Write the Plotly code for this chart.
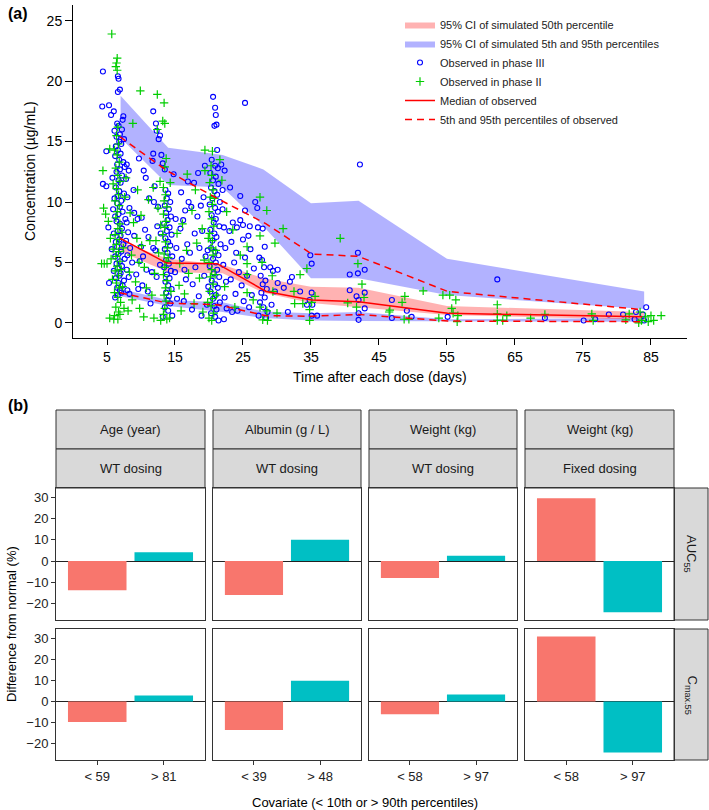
import plotly.graph_objects as go

W, H = 709, 810
FONT = "Liberation Sans, Arial, Helvetica, sans-serif"

# ---------------- Panel (a) data ----------------
sim_t = [7, 14, 22, 28, 35, 42, 55, 84]
ci95_upper_hi = [18.8, 14.5, 13.9, 12.7, 9.9, 10.1, 5.3, 2.6]
ci95_upper_lo = [15.3, 11.4, 11.2, 8.0, 3.7, 3.7, 2.3, 1.15]
ci50_hi = [6.7, 5.3, 4.8, 3.7, 3.0, 2.9, 1.4, 0.9]
ci50_lo = [5.9, 4.2, 4.1, 2.5, 1.65, 1.3, 0.65, 0.25]
ci5_hi = [2.8, 1.9, 1.7, 0.95, 0.8, 0.9, 0.3, 0.4]
ci5_lo = [2.2, 1.4, 0.9, 0.4, 0.2, 0.15, 0.1, 0.1]

obs_t = [6.9, 13.8, 21.2, 28.4, 35.1, 42.0, 55.1, 83.7]
obs_median = [7.0, 4.95, 4.9, 2.6, 1.9, 1.75, 0.8, 0.5]
obs_p95 = [15.4, 12.6, 10.3, 8.2, 5.7, 5.5, 2.6, 1.1]
obs_p5 = [2.5, 1.65, 1.5, 0.6, 0.55, 0.7, 0.15, 0.1]

phase3_obs = [
    (4.4, 20.8), (4.3, 17.9), (6.6, 20.4), (6.7, 20.2), (6.9, 19.3), (6.6, 19.1), (5.3, 18.0), (6.0, 17.5),
    (5.6, 17.2), (7.4, 17.1), (7.3, 16.8), (6.5, 16.5), (6.7, 16.3), (7.2, 16.0), (6.1, 15.9), (6.9, 15.6),
    (6.4, 15.4), (7.5, 15.2), (6.8, 15.0), (7.1, 14.8), (4.9, 14.2), (6.3, 14.6), (6.6, 14.3), (7.0, 14.0),
    (6.2, 13.8), (6.8, 13.5), (7.4, 13.3), (6.5, 13.1), (7.6, 12.9), (6.9, 12.7), (6.4, 12.5), (7.2, 12.2),
    (5.8, 12.0), (6.7, 11.8), (4.4, 11.5), (4.9, 11.3), (7.0, 11.6), (6.3, 11.2), (6.8, 10.9), (7.5, 10.7),
    (6.6, 10.5), (6.1, 10.3), (7.1, 10.1), (6.5, 9.9), (6.9, 9.6), (5.9, 9.4), (7.3, 9.2), (6.7, 9.0),
    (6.2, 8.8), (7.7, 8.6), (6.4, 8.4), (6.9, 8.2), (5.2, 7.9), (7.2, 7.8), (6.6, 7.6), (6.0, 7.4),
    (7.0, 7.2), (6.8, 6.9), (6.3, 6.7), (7.4, 6.5), (6.5, 6.3), (5.7, 6.1), (7.1, 5.9), (6.7, 5.7),
    (6.2, 5.5), (7.6, 5.3), (6.9, 5.1), (6.4, 4.9), (5.3, 3.3), (7.2, 4.7), (6.6, 4.5), (6.0, 4.3),
    (7.0, 4.1), (6.8, 3.9), (6.3, 3.7), (7.5, 3.5), (6.7, 3.3), (7.3, 3.1), (6.5, 2.9), (6.9, 2.7),
    (7.1, 2.5), (6.6, 2.3), (6.2, 2.1), (7.9, 13.1), (8.2, 12.6), (7.8, 11.9), (8.0, 10.4), (8.3, 9.5),
    (7.9, 8.3), (8.1, 7.5), (7.8, 6.8), (8.4, 6.2), (8.0, 5.6), (7.9, 4.4), (8.2, 3.8), (8.0, 2.7), (8.3, 2.4),
    (9.5, 8.6), (10.1, 8.7), (9.0, 7.2), (10.6, 7.7), (11.2, 10.3), (9.8, 5.1), (10.3, 5.5), (11.8, 6.2),
    (12.1, 6.0), (9.3, 4.0), (10.8, 4.4), (11.6, 4.2), (9.6, 2.8), (10.2, 3.1), (11.0, 2.6), (12.3, 3.8),
    (11.4, 1.6), (12.0, 11.3), (8.9, 11.0), (10.4, 12.6), (11.7, 13.4), (9.0, 9.1), (12.4, 8.0), (11.1, 7.1),
    (10.0, 6.3), (8.7, 5.0), (12.5, 9.6), (11.9, 10.0), (9.7, 13.6), (10.7, 12.0),
    (11.8, 17.5), (12.2, 16.5), (12.3, 15.9), (12.6, 15.2), (11.8, 14.0), (12.8, 15.5), (13.0, 13.9),
    (13.2, 13.2), (13.5, 12.7), (14.8, 12.3), (16.9, 11.7),
    (13.6, 11.0), (14.0, 10.7), (13.8, 10.3), (14.3, 10.0), (13.5, 9.7), (14.1, 9.4), (13.7, 9.1), (14.4, 8.8),
    (13.9, 8.5), (13.4, 8.2), (14.2, 7.9), (13.8, 7.6), (14.5, 7.3), (13.6, 7.0), (14.0, 6.7), (14.3, 6.4),
    (13.5, 6.1), (13.9, 5.8), (14.6, 5.5), (13.7, 5.2), (14.1, 4.9), (13.4, 4.6), (14.4, 4.3), (13.8, 4.0),
    (14.2, 3.7), (13.6, 3.4), (14.0, 3.1), (14.5, 2.8), (13.7, 2.5), (14.1, 2.2), (13.9, 1.9), (14.3, 1.6),
    (13.5, 1.3), (14.0, 1.0), (14.6, 0.6), (13.2, 0.5), (15.0, 4.2), (15.2, 6.2), (15.1, 8.6), (12.9, 7.4),
    (12.8, 4.8), (15.3, 2.0),
    (15.8, 7.8), (16.2, 8.5), (16.5, 9.3), (17.0, 10.0), (17.4, 9.6), (16.8, 6.5), (17.9, 7.4), (18.3, 8.8),
    (18.8, 9.7), (19.2, 10.4), (16.0, 5.3), (17.2, 5.8), (18.0, 4.6), (18.6, 6.2), (19.0, 7.6), (16.6, 3.6),
    (17.6, 3.2), (18.5, 2.2), (19.3, 3.9), (16.3, 1.8), (17.5, 1.1), (18.9, 0.6), (19.5, 5.5), (15.9, 10.8),
    (17.8, 11.6), (18.4, 12.4), (19.4, 13.0), (16.4, 4.4),
    (20.6, 18.7), (20.9, 17.8), (21.0, 17.2), (20.8, 16.3), (21.1, 16.4), (21.2, 14.3), (20.4, 13.5), (20.9, 13.0),
    (21.3, 12.8), (20.2, 12.4), (21.0, 12.1), (20.6, 11.8), (21.4, 11.5), (20.3, 11.2), (20.8, 10.9), (21.2, 10.6),
    (20.5, 10.3), (21.6, 10.0), (20.1, 9.8), (20.9, 9.5), (21.3, 9.2), (20.4, 8.9), (21.0, 8.6), (20.7, 8.3),
    (21.5, 8.0), (20.2, 7.7), (20.8, 7.4), (21.1, 7.1), (20.5, 6.8), (21.7, 6.5), (20.3, 6.2), (20.9, 5.9),
    (21.4, 5.6), (20.6, 5.3), (21.0, 5.0), (20.1, 4.7), (21.2, 4.4), (20.7, 4.1), (21.5, 3.8), (20.4, 3.5),
    (20.9, 3.2), (21.3, 2.9), (20.2, 2.6), (21.0, 2.3), (20.6, 2.0), (21.6, 1.7), (20.8, 1.4), (21.1, 1.1),
    (20.3, 0.8), (20.9, 0.5), (21.4, 0.2), (19.8, 6.0), (19.9, 3.0), (22.0, 9.4), (22.2, 7.9), (22.4, 6.2),
    (22.1, 4.8), (22.5, 3.4), (22.3, 2.1), (22.6, 1.2), (22.2, 0.3), (19.7, 1.5), (22.0, 11.0), (21.8, 13.1),
    (22.3, 12.6), (25.3, 18.2),
    (23.0, 7.6), (23.5, 8.3), (24.1, 7.9), (24.6, 8.5), (23.3, 6.7), (24.0, 5.8), (25.0, 6.9), (25.8, 7.2),
    (23.7, 5.0), (24.4, 4.2), (25.3, 5.4), (26.1, 6.1), (23.2, 3.6), (24.8, 3.1), (25.6, 3.9), (26.6, 4.5),
    (23.9, 2.4), (25.1, 1.8), (26.3, 2.3), (24.2, 1.0), (25.9, 1.3), (23.4, 0.9), (26.8, 10.0), (24.6, 10.5),
    (23.1, 11.2), (25.3, 9.3), (26.0, 8.0), (25.0, 8.1), (27.1, 9.5), (27.2, 7.9), (27.9, 7.8), (28.2, 6.3),
    (27.4, 5.4), (27.8, 5.2), (28.1, 4.6), (27.6, 3.9), (28.3, 3.5), (27.9, 3.2), (28.5, 2.8), (27.7, 2.5),
    (28.2, 2.1), (27.5, 1.7), (28.0, 1.3), (28.6, 0.9), (27.3, 0.6), (28.4, 0.4), (29.0, 4.6), (30.1, 4.4),
    (31.9, 3.4), (29.4, 4.3), (29.7, 2.6), (29.2, 1.5), (30.1, 3.3), (31.0, 2.9), (31.6, 0.9), (32.2, 3.8),
    (33.4, 2.6),
    (34.9, 5.6), (35.1, 4.9), (35.1, 2.5), (34.8, 1.9), (35.2, 1.5), (35.1, 0.6), (35.9, 0.6), (34.4, 1.5),
    (42.2, 13.1), (41.9, 5.8), (40.7, 4.0), (41.9, 4.1), (42.9, 4.4), (40.7, 2.7), (41.7, 2.2), (42.9, 2.5),
    (42.0, 1.9), (42.9, 1.2), (42.0, 0.8), (42.0, 0.25),
    (46.9, 1.9), (46.9, 0.4), (49.1, 1.0), (49.8, 0.5), (62.4, 3.6), (55.1, 0.5), (69.4, 0.4), (75.1, 0.2),
    (76.8, 0.3), (78.8, 0.7), (80.9, 0.7), (82.8, 0.9), (84.3, 1.3), (83.8, 0.7), (82.6, 0.3), (84.0, 0.2),
]

phase2_obs = [
    (5.7, 23.9), (6.5, 21.9), (6.4, 21.5), (6.3, 21.2), (6.5, 20.9), (6.6, 16.2), (4.4, 12.6), (5.4, 14.4),
    (6.1, 14.3), (6.4, 15.5), (6.7, 14.8), (6.5, 13.9), (6.8, 13.3), (6.3, 12.8), (6.6, 12.2), (6.9, 11.7),
    (6.4, 11.1), (6.7, 10.6), (6.2, 10.1), (6.8, 9.7), (4.5, 9.5), (4.8, 9.0), (5.2, 8.4), (6.5, 9.2),
    (6.3, 8.7), (6.9, 8.2), (6.6, 7.8), (6.2, 7.3), (6.8, 6.9), (6.4, 6.5), (5.9, 6.1), (6.7, 5.9),
    (6.3, 5.5), (4.2, 4.9), (4.6, 4.9), (5.0, 4.9), (6.9, 5.1), (6.5, 4.7), (6.2, 4.3), (6.7, 3.9),
    (5.8, 3.6), (6.4, 3.3), (6.8, 2.9), (6.1, 2.5), (6.6, 2.1), (7.0, 1.7), (6.3, 1.3), (6.7, 0.9),
    (6.1, 0.6), (5.4, 0.4), (6.6, 0.3), (7.2, 7.5), (7.4, 6.2), (7.1, 4.4), (7.3, 3.0), (7.5, 1.2),
    (5.6, 5.3), (5.5, 7.0), (7.6, 10.4), (7.8, 12.0), (5.9, 11.5), (6.0, 0.3), (6.9, 0.7),
    (8.8, 16.5), (9.9, 19.2), (8.4, 9.1), (8.9, 8.3), (9.4, 7.0), (10.1, 6.4), (11.3, 6.8), (8.6, 5.6),
    (9.7, 5.0), (10.5, 4.6), (12.0, 4.1), (8.3, 4.2), (9.2, 3.4), (10.8, 2.9), (11.6, 2.3), (8.7, 1.9),
    (9.8, 1.2), (10.4, 0.5), (11.9, 0.4), (12.2, 6.8), (12.5, 9.5), (11.1, 10.2), (9.5, 11.0), (8.1, 1.0),
    (12.6, 5.8), (10.0, 8.9),
    (12.4, 18.9), (13.4, 18.2), (12.4, 16.0), (13.2, 16.7), (13.5, 16.5), (13.7, 13.6), (11.8, 11.2), (12.8, 11.7),
    (13.5, 12.9), (13.3, 11.2), (13.6, 10.6), (13.4, 10.1), (13.8, 9.6), (13.3, 9.0), (13.7, 8.4), (13.5, 7.9),
    (13.2, 7.3), (13.6, 6.7), (13.9, 6.2), (13.4, 5.7), (13.7, 5.1), (13.5, 4.6), (13.3, 4.0), (13.8, 3.5),
    (13.6, 2.9), (13.4, 2.3), (13.7, 1.8), (13.5, 1.2), (13.3, 0.7), (13.8, 0.3), (14.2, 0.4), (12.9, 0.2),
    (14.4, 2.6), (14.0, 5.4), (12.9, 8.1), (14.3, 11.6),
    (15.3, 7.4), (16.1, 8.2), (17.5, 9.3), (16.7, 6.0), (18.2, 6.6), (19.0, 7.8), (15.7, 4.9), (17.0, 4.1),
    (18.6, 3.7), (19.3, 5.2), (16.4, 2.4), (17.8, 1.6), (15.9, 1.0), (19.1, 0.9), (18.0, 11.0), (16.8, 12.3),
    (15.6, 3.1),
    (19.4, 14.3), (20.5, 14.2), (21.6, 13.5), (21.9, 11.8), (19.4, 12.6), (20.3, 13.0), (20.4, 12.2), (20.1, 11.6),
    (20.6, 11.0), (20.2, 10.4), (20.5, 9.8), (20.0, 9.2), (20.4, 8.6), (20.7, 8.0), (20.1, 7.4), (20.5, 6.8),
    (20.3, 6.2), (20.6, 5.6), (20.0, 5.0), (20.4, 4.4), (20.2, 3.8), (20.6, 3.2), (20.1, 2.6), (20.5, 2.0),
    (20.3, 1.4), (20.7, 0.8), (20.0, 0.4), (20.4, 0.2), (20.8, 10.3), (19.9, 7.0), (20.9, 4.0), (19.8, 1.7),
    (21.1, 2.3), (21.0, 6.0),
    (22.6, 9.2), (23.5, 7.7), (24.6, 5.6), (22.3, 3.0), (23.8, 1.3), (25.6, 6.3), (25.6, 4.9), (25.6, 4.0),
    (27.5, 10.4), (28.5, 9.3), (30.9, 7.8), (29.7, 6.6), (27.5, 7.2), (27.8, 5.0), (29.3, 3.9), (29.4, 2.6),
    (33.4, 4.0), (34.4, 4.5), (32.5, 2.6), (32.6, 1.6), (33.8, 1.6), (25.6, 2.5), (26.5, 1.9), (27.5, 1.3),
    (27.9, 0.25), (28.5, 1.0), (28.6, 0.2), (30.0, 0.8), (35.6, 2.2), (35.1, 1.7), (34.8, 1.1), (34.8, 0.2),
    (39.3, 7.0), (41.9, 4.9), (42.5, 3.2), (42.8, 2.1), (40.4, 1.65), (41.7, 1.3), (46.5, 0.9), (46.6, 1.05),
    (48.8, 2.2), (48.4, 1.7), (51.5, 2.65), (48.7, 0.3), (49.4, 0.3), (53.8, 0.4), (54.4, 2.3), (55.4, 2.3),
    (56.3, 1.9), (55.7, 1.2), (55.9, 0.8), (56.6, 0.6), (56.5, 0.1), (62.4, 1.5), (62.4, 0.75), (62.4, 0.2),
    (63.2, 0.2), (63.8, 0.6), (67.3, 0.4), (69.4, 0.7), (76.3, 0.75), (76.5, 0.2), (81.3, 0.25), (81.8, 0.75),
    (83.4, 0.9), (83.6, 0.2), (84.2, 0.5), (84.6, 0.1), (85.0, 0.6), (85.4, 0.2), (86.5, 0.6), (83.2, 0.0),
]

# ---------------- Panel (b) data ----------------
covariate_labels = ["Age (year)", "Albumin (g / L)", "Weight (kg)", "Weight (kg)"]
dosing_labels = ["WT dosing", "WT dosing", "WT dosing", "Fixed dosing"]
low_labels = ["< 59", "< 39", "< 58", "< 58"]
high_labels = ["> 81", "> 48", "> 97", "> 97"]
metric_labels = ["AUC<sub>55</sub>", "C<sub>max.55</sub>"]
auc_low = [-13.8, -16.0, -8.0, 29.6]
auc_high = [4.1, 10.0, 2.5, -24.2]
cmax_low = [-9.8, -13.5, -6.1, 30.8]
cmax_high = [2.8, 9.8, 3.3, -24.2]
bar_colors = ["#F8766D", "#00BFC4"]


def fx(p):
    return p / W


def fy(p):
    return 1 - p / H


fig = go.Figure()

# ---- bands ----
def band(t, hi, lo, color, name, show, group, rank):
    fig.add_trace(go.Scatter(
        x=list(t) + list(t)[::-1], y=list(hi) + list(lo)[::-1],
        fill="toself", fillcolor=color, line=dict(width=0), mode="lines",
        name=name, showlegend=show, legendgroup=group, legendrank=rank, hoverinfo="skip",
        xaxis="x", yaxis="y"))

band(sim_t, ci95_upper_hi, ci95_upper_lo, "rgba(0,0,255,0.30)",
     "95% CI of simulated 5th and 95th percentiles", True, "b", 2)
band(sim_t, ci5_hi, ci5_lo, "rgba(0,0,255,0.30)",
     "95% CI of simulated 5th and 95th percentiles", False, "b", 2)
band(sim_t, ci50_hi, ci50_lo, "rgba(255,0,0,0.30)",
     "95% CI of simulated 50th percentile", True, "p", 1)

fig.add_trace(go.Scatter(
    x=[p[0] for p in phase3_obs], y=[p[1] for p in phase3_obs], mode="markers",
    marker=dict(symbol="circle-open", size=5, color="#0000FF", line=dict(width=1.1)),
    name="Observed in phase III", legendrank=3, xaxis="x", yaxis="y"))
fig.add_trace(go.Scatter(
    x=[p[0] for p in phase2_obs], y=[p[1] for p in phase2_obs], mode="markers",
    marker=dict(symbol="cross-thin-open", size=6, color="#00CD00", line=dict(width=1.2, color="#00CD00")),
    name="Observed in phase II", legendrank=4, xaxis="x", yaxis="y"))

fig.add_trace(go.Scatter(
    x=obs_t, y=obs_median, mode="lines", line=dict(color="#FF0000", width=1.5),
    name="Median of observed", legendrank=5, xaxis="x", yaxis="y"))
fig.add_trace(go.Scatter(
    x=obs_t, y=obs_p95, mode="lines", line=dict(color="#FF0000", width=1.5, dash="7px,5px"),
    name="5th and 95th percentiles of observed", legendrank=6, legendgroup="d", xaxis="x", yaxis="y"))
fig.add_trace(go.Scatter(
    x=obs_t, y=obs_p5, mode="lines", line=dict(color="#FF0000", width=1.5, dash="7px,5px"),
    name="5th and 95th percentiles of observed", showlegend=False, legendgroup="d", xaxis="x", yaxis="y"))

layout = dict(
    width=W, height=H, margin=dict(l=0, r=0, t=0, b=0),
    paper_bgcolor="white", plot_bgcolor="white",
    font=dict(family=FONT, size=13, color="#000000"),
    showlegend=True,
    legend=dict(x=fx(400), y=fy(10), xanchor="left", yanchor="top",
                font=dict(size=11, color="#222222"), bgcolor="rgba(0,0,0,0)",
                tracegroupgap=0, itemwidth=30),
    xaxis=dict(domain=[fx(73), fx(687)], range=[0, 90.3], anchor="y",
               showline=True, linecolor="#000", linewidth=1, mirror=False,
               ticks="outside", ticklen=6, tickcolor="#000", tickwidth=1,
               tickvals=[5, 15, 25, 35, 45, 55, 65, 75, 85], showgrid=False, zeroline=False,
               tickfont=dict(size=14)),
    yaxis=dict(domain=[fy(338), fy(5)], range=[-1.25, 26.3], anchor="x",
               showline=True, linecolor="#000", linewidth=1, mirror=False,
               ticks="outside", ticklen=7, tickcolor="#000", tickwidth=1,
               tickvals=[0, 5, 10, 15, 20, 25], showgrid=False, zeroline=False,
               tickfont=dict(size=14)),
)

# ---- panel (b) ----
col_x = [(56, 205), (213, 361), (369, 517), (525, 674)]
row_y = [(488, 620), (629, 760)]
low_vals = [auc_low, cmax_low]
high_vals = [auc_high, cmax_high]

shapes = []
annotations = []
for r in range(2):
    for c in range(4):
        k = 2 + r * 4 + c
        xa, ya = f"xaxis{k}", f"yaxis{k}"
        fig.add_trace(go.Bar(
            x=[low_labels[c], high_labels[c]], y=[low_vals[r][c], high_vals[r][c]],
            marker=dict(color=bar_colors, line=dict(width=0)), width=0.88,
            showlegend=False, xaxis=f"x{k}", yaxis=f"y{k}"))
        layout[xa] = dict(
            domain=[fx(col_x[c][0]), fx(col_x[c][1])], anchor=f"y{k}", type="category",
            range=[-0.62, 1.62], showline=True, mirror=True, linecolor="#333333", linewidth=1,
            showgrid=False, zeroline=False,
            ticks="outside" if r == 1 else "", ticklen=4, tickcolor="#333333",
            showticklabels=(r == 1), tickfont=dict(size=13, color="#222222"))
        layout[ya] = dict(
            domain=[fy(row_y[r][1]), fy(row_y[r][0])], anchor=f"x{k}",
            range=[-27.8, 34.4], showline=True, mirror=True, linecolor="#333333", linewidth=1,
            showgrid=False, zeroline=True, zerolinecolor="#222222", zerolinewidth=1,
            ticks="outside" if c == 0 else "", ticklen=4, tickcolor="#333333",
            showticklabels=(c == 0), tickvals=[-20, -10, 0, 10, 20, 30],
            ticktext=["\u221220", "\u221210", "0", "10", "20", "30"],
            tickfont=dict(size=13, color="#222222"))

# strips
strip_rows = [(410, 449, covariate_labels), (449, 488, dosing_labels)]
for (y0, y1, labels) in strip_rows:
    for c in range(4):
        shapes.append(dict(type="rect", xref="paper", yref="paper",
                           x0=fx(col_x[c][0]), x1=fx(col_x[c][1]), y0=fy(y1), y1=fy(y0),
                           fillcolor="#D9D9D9", line=dict(color="#333333", width=1), layer="below"))
        annotations.append(dict(x=fx((col_x[c][0] + col_x[c][1]) / 2), y=fy((y0 + y1) / 2),
                                xref="paper", yref="paper", text=labels[c], showarrow=False,
                                font=dict(size=13, color="#1A1A1A"), xanchor="center", yanchor="middle"))
for r in range(2):
    shapes.append(dict(type="rect", xref="paper", yref="paper",
                       x0=fx(674), x1=fx(708), y0=fy(row_y[r][1]), y1=fy(row_y[r][0]),
                       fillcolor="#D9D9D9", line=dict(color="#333333", width=1), layer="below"))
    annotations.append(dict(x=fx(691), y=fy((row_y[r][0] + row_y[r][1]) / 2),
                            xref="paper", yref="paper", text=metric_labels[r], showarrow=False,
                            textangle=90, font=dict(size=13, color="#1A1A1A"),
                            xanchor="center", yanchor="middle"))

# titles and panel labels
annotations += [
    dict(x=fx(18), y=fy(13), text="<b>(a)</b>", font=dict(size=16)),
    dict(x=fx(18), y=fy(405), text="<b>(b)</b>", font=dict(size=16)),
    dict(x=fx(30), y=fy(171), text="Concentration (µg/mL)", textangle=-90, font=dict(size=14)),
    dict(x=fx(380), y=fy(377), text="Time after each dose (days)", font=dict(size=14)),
    dict(x=fx(11), y=fy(624), text="Difference from normal (%)", textangle=-90,
         font=dict(size=13, color="#000")),
    dict(x=fx(365), y=fy(802), text="Covariate (< 10th or > 90th percentiles)",
         font=dict(size=13, color="#000")),
]
for a in annotations:
    a.setdefault("xref", "paper")
    a.setdefault("yref", "paper")
    a.setdefault("showarrow", False)
    a.setdefault("xanchor", "center")
    a.setdefault("yanchor", "middle")

layout["shapes"] = shapes
layout["annotations"] = annotations
fig.update_layout(**layout)
fig.write_html(
    "out.html",
    config={"displayModeBar": False},
    post_script="document.body.style.margin='0';document.body.style.overflow='hidden';",
)
